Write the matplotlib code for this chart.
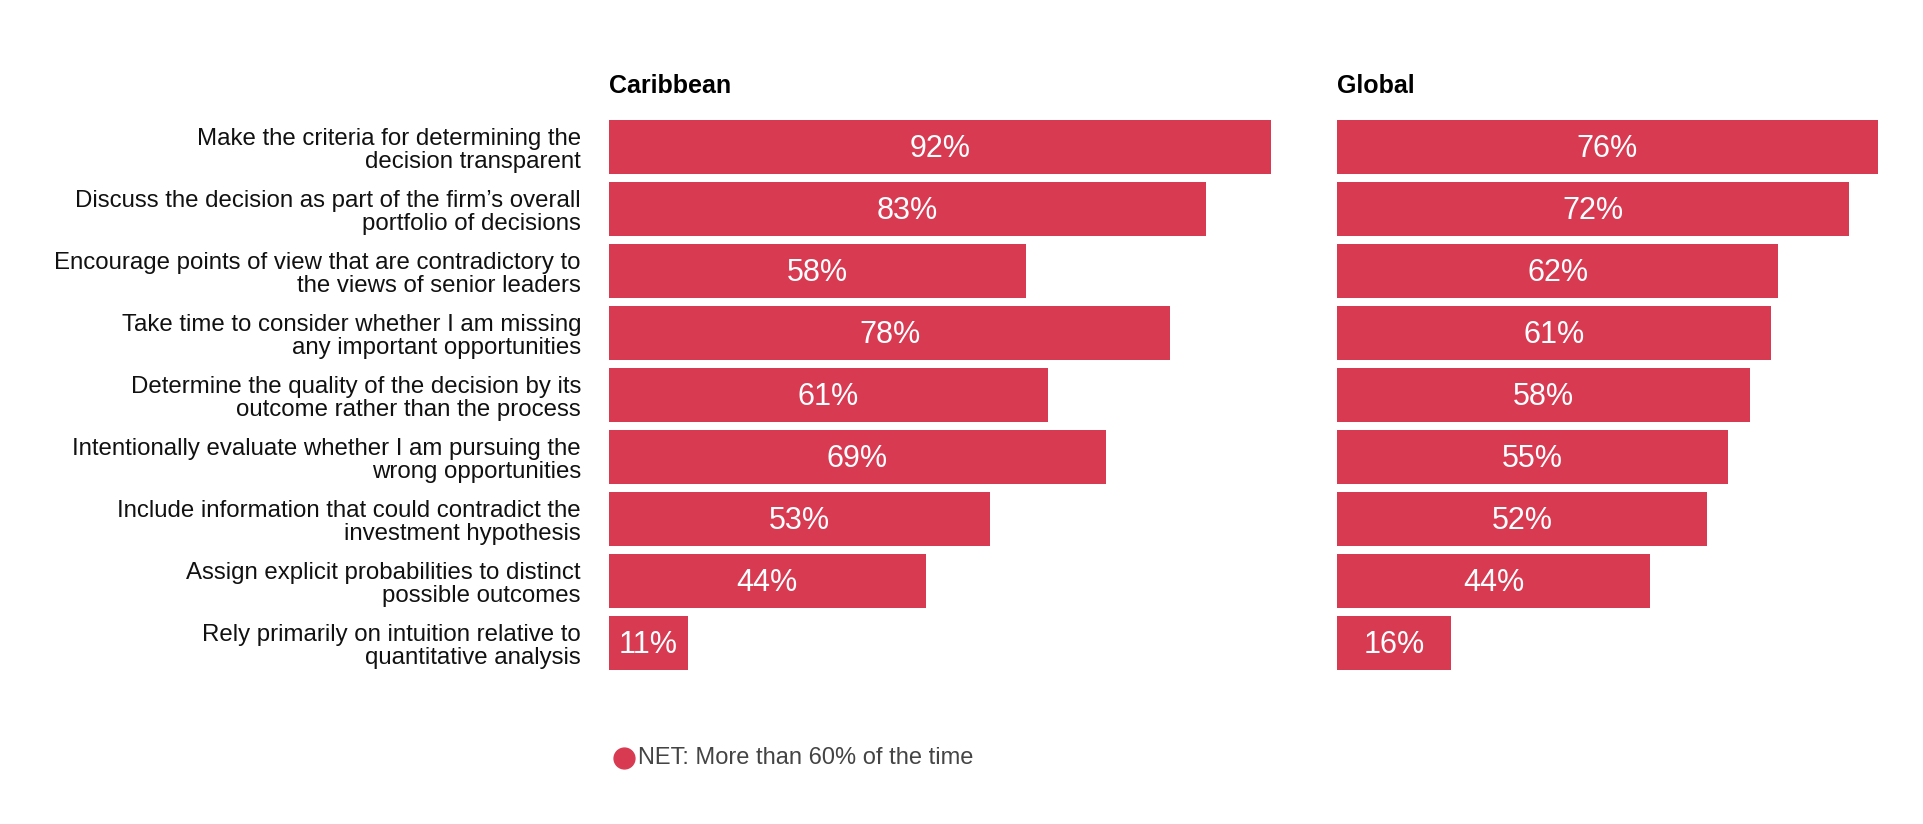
import matplotlib
matplotlib.use("Agg")
import matplotlib.pyplot as plt
from matplotlib.lines import Line2D

categories = [
    "Make the criteria for determining the\ndecision transparent",
    "Discuss the decision as part of the firm\u2019s overall\nportfolio of decisions",
    "Encourage points of view that are contradictory to\nthe views of senior leaders",
    "Take time to consider whether I am missing\nany important opportunities",
    "Determine the quality of the decision by its\noutcome rather than the process",
    "Intentionally evaluate whether I am pursuing the\nwrong opportunities",
    "Include information that could contradict the\ninvestment hypothesis",
    "Assign explicit probabilities to distinct\npossible outcomes",
    "Rely primarily on intuition relative to\nquantitative analysis",
]
caribbean = [92, 83, 58, 78, 61, 69, 53, 44, 11]
global_vals = [76, 72, 62, 61, 58, 55, 52, 44, 16]
panel_titles = ["Caribbean", "Global"]
legend_label = "NET: More than 60% of the time"

BAR = "#D83A52"
plt.rcParams['font.family'] = ['Liberation Sans', 'DejaVu Sans']

W, H = 1923, 824
fig = plt.figure(figsize=(W / 100, H / 100), dpi=100)

top_px, bot_px = 116, 674
def axrect(left_px, right_px):
    return [left_px / W, 1 - bot_px / H, (right_px - left_px) / W, (bot_px - top_px) / H]

ax1 = fig.add_axes(axrect(609, 1300))
ax2 = fig.add_axes(axrect(1337, 1900))
xmaxes = [691 / 7.196, 563 / 7.118]

for ax, vals, title, xm in zip([ax1, ax2], [caribbean, global_vals], panel_titles, xmaxes):
    y = list(range(len(vals)))
    ax.barh(y, vals, height=0.87, color=BAR, edgecolor='none')
    ax.set_xlim(0, xm)
    ax.set_ylim(len(vals) - 0.5, -0.5)
    for yi, v in zip(y, vals):
        ax.text(v / 2, yi + 0.03, f"{v}%", ha='center', va='center', color='white', fontsize=22)
    for s in ax.spines.values():
        s.set_visible(False)
    ax.set_xticks([])
    ax.set_yticks([])
    ax.text(0, 1 + 30 / (bot_px - top_px), title, transform=ax.transAxes, ha='left', va='center',
            fontsize=18, fontweight='bold', color='black')

for yi, c in enumerate(categories):
    ax1.text(-28 / 7.196, yi + 0.06, c, ha='right', va='center', fontsize=17.3, color='#111111',
             linespacing=1.06)

# legend
fig.add_artist(Line2D([624 / W], [1 - 758 / H], marker='o', markersize=15, color=BAR,
                      linestyle='none', transform=fig.transFigure))
fig.text(638 / W, 1 - 758 / H, legend_label, ha='left', va='center', fontsize=17, color='#444444')

fig.savefig("out.png", dpi=100, facecolor='white')
